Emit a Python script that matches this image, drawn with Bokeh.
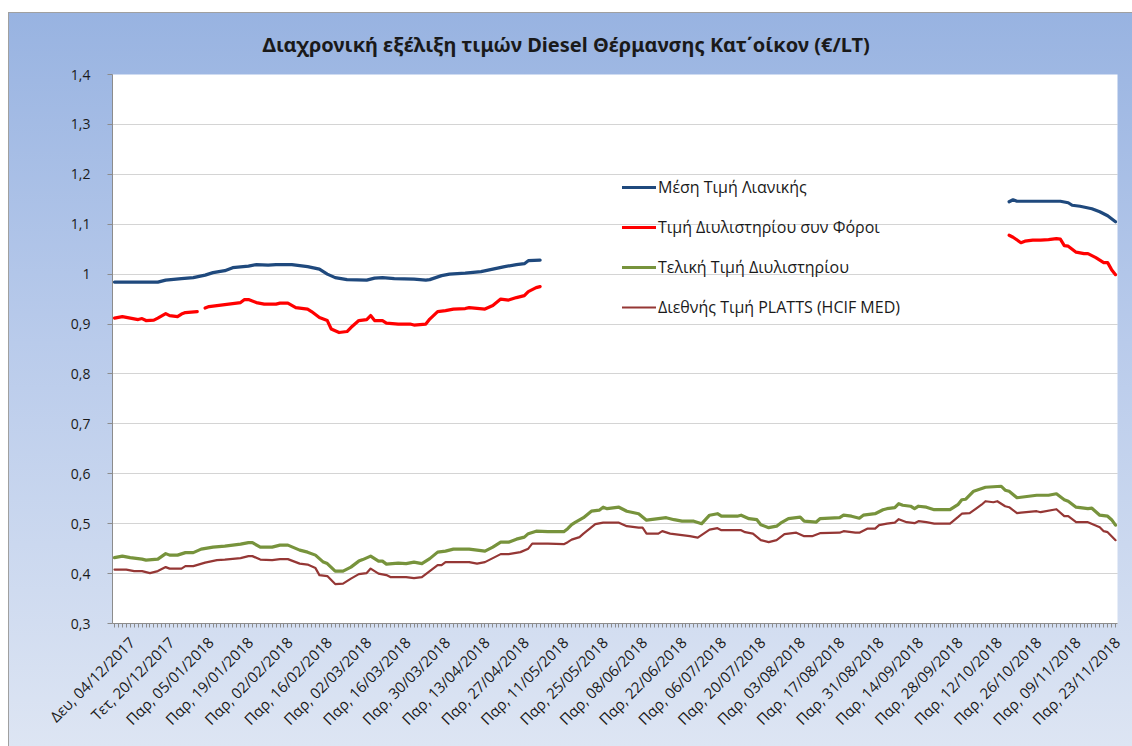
import math
from bokeh.plotting import figure
from bokeh.models import Range1d, FixedTicker, Legend, LegendItem, Spacer
from bokeh.layouts import column, row
from bokeh.embed import file_html
from bokeh.resources import INLINE

nan = float("nan")

title_text = "Διαχρονική εξέλιξη τιμών Diesel Θέρμανσης Κατ΄οίκον (€/LT)"

# category labels, one every 10 trading days (categories 0..254)
x_labels = [
    "Δευ, 04/12/2017", "Τετ, 20/12/2017", "Παρ, 05/01/2018", "Παρ, 19/01/2018",
    "Παρ, 02/02/2018", "Παρ, 16/02/2018", "Παρ, 02/03/2018", "Παρ, 16/03/2018",
    "Παρ, 30/03/2018", "Παρ, 13/04/2018", "Παρ, 27/04/2018", "Παρ, 11/05/2018",
    "Παρ, 25/05/2018", "Παρ, 08/06/2018", "Παρ, 22/06/2018", "Παρ, 06/07/2018",
    "Παρ, 20/07/2018", "Παρ, 03/08/2018", "Παρ, 17/08/2018", "Παρ, 31/08/2018",
    "Παρ, 14/09/2018", "Παρ, 28/09/2018", "Παρ, 12/10/2018", "Παρ, 26/10/2018",
    "Παρ, 09/11/2018", "Παρ, 23/11/2018",
]
n_points = 255
label_step = 10

y_ticks = [0.3, 0.4, 0.5, 0.6, 0.7, 0.8, 0.9, 1.0, 1.1, 1.2, 1.3, 1.4]
y_labels = ["0,3", "0,4", "0,5", "0,6", "0,7", "0,8", "0,9", "1", "1,1", "1,2", "1,3", "1,4"]

series_names = [
    "Μέση Τιμή Λιανικής",
    "Τιμή Διυλιστηρίου συν Φόροι",
    "Τελική Τιμή Διυλιστηρίου",
    "Διεθνής Τιμή PLATTS (HCIF MED)",
]

retail_idx = [0, 11, 13, 17, 20, 23, 25, 28, 30, 34, 36, 39, 41, 45, 47, 49, 52, 54, 56, 59,
              64, 66, 68, 71, 76, 79, 80, 83, 85, 89, 93, 96, 99, 102, 104, 105, 108,
              109,
              227, 228, 229, 240, 242, 243, 245, 248, 250, 252, 254]
retail_val = [0.984, 0.984, 0.988, 0.991, 0.993, 0.998, 1.003, 1.007, 1.013, 1.016, 1.019, 1.018,
              1.019, 1.019, 1.017, 1.015, 1.010, 1.000, 0.993, 0.989,
              0.988, 0.992, 0.993, 0.991, 0.990, 0.988, 0.989, 0.997, 1.000, 1.002, 1.005, 1.010,
              1.015, 1.019, 1.021, 1.027, 1.028,
              nan,
              1.145, 1.149, 1.146, 1.146, 1.143, 1.138, 1.136, 1.131, 1.125, 1.117, 1.105]

refinery_tax_idx = [0, 2, 4, 6, 7, 8, 10, 11, 13, 14, 16, 17, 18, 21,
                    22,
                    23, 24, 27, 29, 32, 33, 34, 36, 38, 41, 42, 44, 46, 49, 50, 52, 54, 55, 57,
                    59, 60, 62, 64, 65, 66, 68, 69, 72, 75, 76, 79, 80, 82, 84, 86, 89, 90, 94,
                    96, 98, 100, 102, 104, 105, 107, 108,
                    109,
                    227, 228, 230, 231, 233, 235, 237, 239, 240, 241, 242, 244, 246, 247, 249,
                    251, 252, 253, 254]
refinery_tax_val = [0.912, 0.915, 0.912, 0.909, 0.911, 0.907, 0.908, 0.912, 0.921, 0.917, 0.915,
                    0.920, 0.923, 0.925,
                    nan,
                    0.932, 0.935, 0.938, 0.940, 0.943, 0.949, 0.949, 0.943, 0.940, 0.940, 0.942,
                    0.942, 0.933, 0.930, 0.925, 0.913, 0.907, 0.890, 0.883,
                    0.885, 0.893, 0.907, 0.909, 0.917, 0.907, 0.907, 0.902, 0.900, 0.900, 0.898,
                    0.900, 0.910, 0.925, 0.927, 0.930, 0.931, 0.933, 0.930,
                    0.937, 0.950, 0.948, 0.953, 0.957, 0.965, 0.973, 0.975,
                    nan,
                    1.078, 1.074, 1.063, 1.066, 1.068, 1.068, 1.069, 1.071, 1.070, 1.057, 1.056,
                    1.044, 1.041, 1.041, 1.033, 1.023, 1.023, 1.009, 0.999]

refinery_idx = [0, 2, 4, 7, 8, 11, 13, 14, 16, 18, 20, 22, 25, 28, 32, 34, 35, 37, 40, 42, 44,
                47, 49, 51, 53, 54, 56, 58, 60, 62, 63, 65, 67, 68, 69, 72, 74, 76, 78, 80,
                82, 84, 86, 90, 94, 96, 98, 100, 102, 104, 105, 107, 110, 114, 115,
                116, 117, 119, 121, 123, 124, 125, 128, 130, 133, 135, 138, 140, 142, 144,
                147, 149, 151, 153, 154, 158, 159, 161, 163, 164, 166, 168, 169, 171, 174,
                175, 178, 179, 184, 185, 187, 189, 190, 192, 193, 195,
                196, 198, 199, 200, 202, 203, 204, 206, 208, 212, 214, 215, 216, 218, 221,
                225, 226, 227, 229, 230, 232, 234, 237, 239, 241, 242, 244, 245, 247, 248,
                250, 252, 253, 254]
refinery_val = [0.432, 0.435, 0.432, 0.429, 0.427, 0.429, 0.440, 0.437, 0.437, 0.442, 0.442,
                0.449, 0.453, 0.455, 0.459, 0.462, 0.462, 0.453, 0.453, 0.457, 0.457,
                0.447, 0.443, 0.437, 0.423, 0.420, 0.405, 0.405, 0.413, 0.425, 0.428, 0.435,
                0.425, 0.425, 0.419, 0.421, 0.420, 0.423, 0.420, 0.430,
                0.443, 0.445, 0.449, 0.449, 0.445, 0.453, 0.463, 0.463, 0.469, 0.473, 0.480,
                0.485, 0.484, 0.484, 0.490,
                0.498, 0.503, 0.512, 0.525, 0.527, 0.533, 0.530, 0.533, 0.525, 0.520, 0.507,
                0.510, 0.512, 0.508, 0.505,
                0.505, 0.500, 0.517, 0.520, 0.515, 0.515, 0.517, 0.510, 0.508, 0.498, 0.492,
                0.495, 0.501, 0.510, 0.513,
                0.505, 0.503, 0.510, 0.512, 0.517, 0.515, 0.511, 0.517, 0.519, 0.520, 0.528,
                0.530, 0.532, 0.540, 0.537, 0.535, 0.530, 0.535, 0.533, 0.528, 0.528, 0.538,
                0.548, 0.549, 0.565, 0.573,
                0.575, 0.567, 0.565, 0.552, 0.553, 0.555, 0.557, 0.557, 0.560, 0.548, 0.545,
                0.533, 0.532, 0.530, 0.531,
                0.517, 0.515, 0.508, 0.497]

platts_idx = [0, 3, 5, 7, 9, 11, 13, 14, 17, 18, 20, 23, 26, 28, 32, 34, 35, 37, 40, 42, 44,
              47, 49, 51, 52, 54, 56, 58, 60, 62, 64, 65, 67, 69, 70, 74, 76, 78, 80,
              82, 83, 84, 90, 92, 94, 98, 100, 103, 105, 106, 110, 114, 115,
              116, 118, 119, 122, 124, 128, 130, 133, 134, 135, 138, 139, 141, 143, 146,
              148, 151, 153, 154, 159, 160, 162, 164, 166, 168, 170, 173, 175, 177, 179,
              184, 185, 188, 189, 191, 193, 194,
              196, 198, 199, 201, 203, 204, 206, 208, 212, 214, 215, 217, 220, 221, 223,
              224, 226, 227, 229, 230, 234, 235, 239, 241, 242, 244, 247, 250, 251, 252, 254]
platts_val = [0.408, 0.408, 0.405, 0.405, 0.401, 0.405, 0.413, 0.410, 0.410, 0.415, 0.415,
              0.422, 0.427, 0.428, 0.431, 0.435, 0.435, 0.428, 0.427, 0.429, 0.429,
              0.420, 0.418, 0.411, 0.397, 0.395, 0.379, 0.380, 0.390, 0.399, 0.401, 0.410,
              0.400, 0.397, 0.393, 0.393, 0.391, 0.393, 0.405,
              0.417, 0.417, 0.423, 0.423, 0.420, 0.423, 0.439, 0.439, 0.443, 0.450, 0.460,
              0.460, 0.459, 0.463,
              0.468, 0.473, 0.480, 0.499, 0.502, 0.502, 0.495, 0.492, 0.492, 0.480, 0.480,
              0.485, 0.480, 0.478, 0.475,
              0.472, 0.488, 0.491, 0.487, 0.487, 0.483, 0.480, 0.467, 0.463, 0.467, 0.479,
              0.482, 0.475, 0.475, 0.481,
              0.482, 0.485, 0.482, 0.482, 0.490, 0.490, 0.497,
              0.500, 0.502, 0.509, 0.503, 0.501, 0.505, 0.503, 0.500, 0.500, 0.513, 0.520,
              0.521, 0.538, 0.545, 0.543,
              0.545, 0.535, 0.533, 0.521, 0.522, 0.525, 0.523, 0.529, 0.515, 0.515, 0.503,
              0.503, 0.493, 0.485, 0.483, 0.467]

colors = ["#1F497D", "#FF0000", "#77933C", "#953735"]
widths = [3.2, 3.2, 3.2, 2.2]

FONT = "Open Sans"

p = figure(width=1124, height=734, output_backend="svg", toolbar_location=None,
           x_range=Range1d(-0.5, n_points - 0.5), y_range=Range1d(0.3, 1.4),
           min_border_left=104, min_border_right=15, min_border_top=61,
           min_border_bottom=123)

p.styles = {
    "background": "linear-gradient(to bottom, #98b3e1 0%, #b9cbeb 45%, #dde5f3 100%)",
    "box-shadow": "inset 1px 1px 0 0 #a0a0a0",
}
p.border_fill_color = None
p.background_fill_color = "white"
p.outline_line_color = None

p.title.text = title_text
p.title.align = "left"
p.title.offset = 150
p.title.standoff = 33
p.title.text_font = "Noto Sans"
p.title.text_font_size = "20px"
p.title.text_line_height = 0.9
p.title.text_font_style = "bold"
p.title.text_color = "#1a1a1a"

renderers = []
for xs, ys, c, w in [
    (retail_idx, retail_val, colors[0], widths[0]),
    (refinery_tax_idx, refinery_tax_val, colors[1], widths[1]),
    (refinery_idx, refinery_val, colors[2], widths[2]),
    (platts_idx, platts_val, colors[3], widths[3]),
]:
    r = p.line(xs, ys, line_color=c, line_width=w, line_join="round", line_cap="round")
    renderers.append(r)

legend = Legend(items=[LegendItem(label=n, renderers=[r]) for n, r in zip(series_names, renderers)],
                location=(510, 305))
legend.background_fill_alpha = 0
legend.border_line_color = None
legend.padding = 0
legend.margin = 0
legend.spacing = 18
legend.label_height = 22
legend.glyph_height = 22
legend.glyph_width = 34
legend.label_standoff = 2
legend.label_text_font = FONT
legend.label_text_font_size = "16px"
legend.label_text_color = "#1a1a1a"
p.add_layout(legend)

# y axis
p.yaxis.ticker = FixedTicker(ticks=y_ticks)
p.yaxis.major_label_overrides = dict(zip(y_ticks, y_labels))
p.yaxis.axis_line_color = "#8c8c8c"
p.yaxis.major_tick_line_color = "#8c8c8c"
p.yaxis.major_tick_out = 5
p.yaxis.major_tick_in = 0
p.yaxis.minor_tick_line_color = None
p.yaxis.major_label_standoff = 17
p.yaxis.major_label_text_font = FONT
p.yaxis.major_label_text_font_size = "14px"
p.yaxis.major_label_text_color = "#1a1a1a"

# x axis: labels every 10 categories (drawn slightly right of their category,
# as the reference does), small tick on every category
x_ticks = [i * label_step for i in range(len(x_labels))]
label_pos = [t + 4.4 for t in x_ticks]
p.xaxis.ticker = FixedTicker(ticks=label_pos, minor_ticks=list(range(n_points)))
p.xaxis.major_label_overrides = dict(zip(label_pos, x_labels))
p.xaxis.major_label_orientation = math.pi / 4
p.xaxis.axis_line_color = "#8c8c8c"
p.xaxis.major_tick_line_color = None
p.xaxis.minor_tick_line_color = "#8c8c8c"
p.xaxis.major_tick_out = 4
p.xaxis.major_tick_in = 0
p.xaxis.minor_tick_out = 4
p.xaxis.minor_tick_in = 0
p.xaxis.major_label_standoff = 12
p.xaxis.major_label_text_font = FONT
p.xaxis.major_label_text_font_size = "15px"
p.xaxis.major_label_text_color = "#1a1a1a"

p.xgrid.visible = False
p.ygrid.ticker = FixedTicker(ticks=y_ticks)
p.ygrid.grid_line_color = "#a8a8a8"
p.ygrid.grid_line_dash = "1 1"
p.ygrid.grid_line_width = 1

layout = row(Spacer(width=8, height=746), column(Spacer(height=12, width=1124), p))

open("out.html", "w").write(file_html(layout, INLINE))
